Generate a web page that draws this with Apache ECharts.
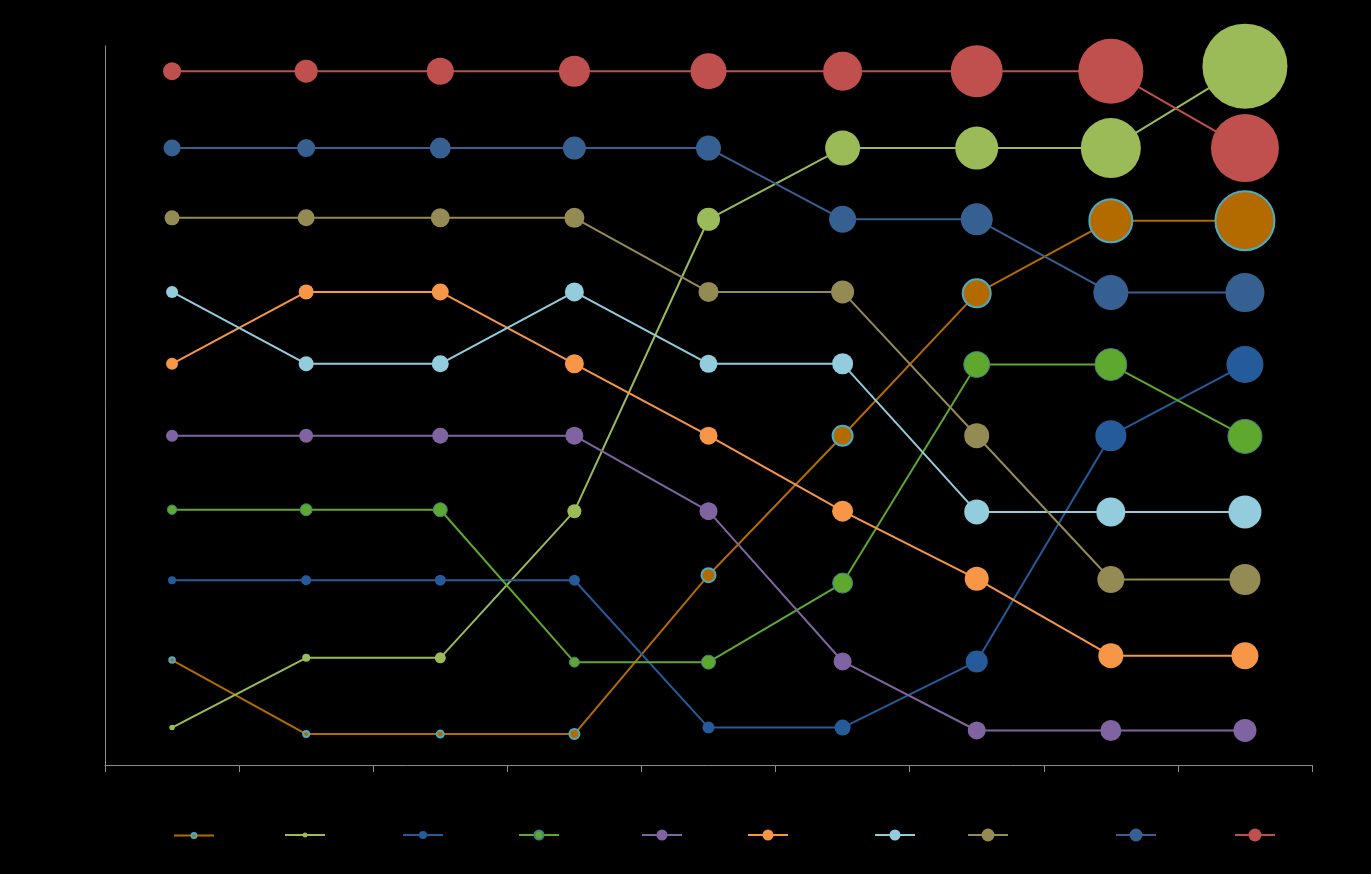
<!DOCTYPE html>
<html>
<head>
<meta charset="utf-8">
<script src="https://cdn.jsdelivr.net/npm/echarts@6/dist/echarts.min.js"></script>
<style>
html,body{margin:0;padding:0;background:#000;}
#chart{width:1371px;height:874px;}
</style>
</head>
<body>
<div id="chart"></div>
<script>
// Categories (periods) – labels are not shown in the reference
const categories = ["P1", "P2", "P3", "P4", "P5", "P6", "P7", "P8", "P9"];

// Series names (not displayed in the reference)
const seriesNames = ["S1", "S2", "S3", "S4", "S5", "S6", "S7", "S8", "S9", "S10"];

// Position values (0-100 scale) per series
const valS1 = [14.6, 4.3, 4.3, 4.3, 26.4, 45.8, 65.6, 75.7, 75.7];
const valS2 = [5.2, 14.9, 14.9, 35.3, 75.9, 85.8, 85.8, 85.8, 97.2];
const valS3 = [25.7, 25.7, 25.7, 25.7, 5.2, 5.2, 14.4, 45.8, 55.7];
const valS4 = [35.5, 35.5, 35.5, 14.3, 14.3, 25.3, 55.7, 55.7, 45.7];
const valS5 = [45.8, 45.8, 45.8, 45.8, 35.3, 14.4, 4.8, 4.8, 4.8];
const valS6 = [55.8, 65.8, 65.8, 55.8, 45.8, 35.3, 25.9, 15.2, 15.2];
const valS7 = [65.8, 55.8, 55.8, 65.8, 55.8, 55.8, 35.2, 35.2, 35.2];
const valS8 = [76.1, 76.1, 76.1, 76.1, 65.8, 65.8, 45.8, 25.8, 25.8];
const valS9 = [85.8, 85.8, 85.8, 85.8, 85.8, 75.9, 75.9, 65.7, 65.7];
const valS10 = [96.5, 96.5, 96.5, 96.5, 96.5, 96.5, 96.5, 96.5, 85.8];

// Bubble magnitude per series
const magS1 = [5.5, 6, 7, 10, 14, 20, 28, 43, 59];
const magS2 = [5.5, 8, 11, 14, 23, 35, 43, 60, 85];
const magS3 = [8, 10, 11, 11, 12, 16, 22, 31, 37];
const magS4 = [9.5, 12, 14, 10, 14, 20, 26, 32, 34];
const magS5 = [12, 14, 16, 18, 18, 18, 18, 21, 23];
const magS6 = [12, 15, 17, 19, 18, 21, 24, 25, 27];
const magS7 = [12, 15, 17, 19, 18, 21, 25, 29, 33];
const magS8 = [15, 17, 19, 20, 20, 23, 25, 27, 31];
const magS9 = [17, 18, 21, 23, 25, 27, 32, 35, 39];
const magS10 = [18, 23, 27, 31, 36, 39, 52, 65, 68];

const values = [valS1, valS2, valS3, valS4, valS5, valS6, valS7, valS8, valS9, valS10];
const mags = [magS1, magS2, magS3, magS4, magS5, magS6, magS7, magS8, magS9, magS10];

const colors = ["#b36b00", "#9bbb59", "#255b9b", "#5fa82e", "#8064a2", "#f79646", "#93cddd", "#948a54", "#376092", "#c0504d"];
const borders = [
  {borderColor: "#4bacc6", borderWidth: 2},
  {},
  {},
  {borderColor: "#3f7f8f", borderWidth: 1},
  {}, {}, {}, {}, {}, {}
];
const legendCenters = [193, 304, 422, 538, 661, 767, 894, 987, 1135, 1254];
const legendSym = [5, 5, 8, 9, 11, 11, 11, 13, 13, 13];

const series = seriesNames.map((name, s) => ({
  name: name,
  type: "line",
  data: categories.map((c, i) => [c, values[s][i], mags[s][i]]),
  symbol: "circle",
  symbolSize: v => v[2],
  showAllSymbol: true,
  lineStyle: {color: colors[s], width: 2},
  itemStyle: Object.assign({color: colors[s], opacity: 1}, borders[s]),
  emphasis: {disabled: true},
  z: 2
}));

const legends = seriesNames.map((name, s) => {
  const h = legendSym[s] / 0.8;
  return {
    data: [name],
    left: legendCenters[s] - 20,
    top: 835 - h / 2,
    itemWidth: 40,
    itemHeight: h,
    itemGap: 0,
    padding: 0,
    formatter: () => "",
    textStyle: {color: "#000"},
    selectedMode: false
  };
});

const chart = echarts.init(document.getElementById("chart"));
chart.setOption({
  backgroundColor: "#000",
  animation: false,
  color: colors,
  grid: {left: 105, right: 59, top: 46, bottom: 109, containLabel: false},
  xAxis: {
    type: "category",
    data: categories,
    boundaryGap: true,
    axisLine: {show: true, lineStyle: {color: "#8c8c8c", width: 1}},
    axisTick: {show: true, length: 7, inside: false, alignWithLabel: false, lineStyle: {color: "#8c8c8c"}},
    axisLabel: {show: false},
    splitLine: {show: false}
  },
  yAxis: {
    type: "value",
    min: 0,
    max: 100,
    axisLine: {show: true, lineStyle: {color: "#8c8c8c", width: 1}},
    axisTick: {show: false},
    axisLabel: {show: false},
    splitLine: {show: false}
  },
  legend: legends,
  series: series
});
</script>
</body>
</html>
